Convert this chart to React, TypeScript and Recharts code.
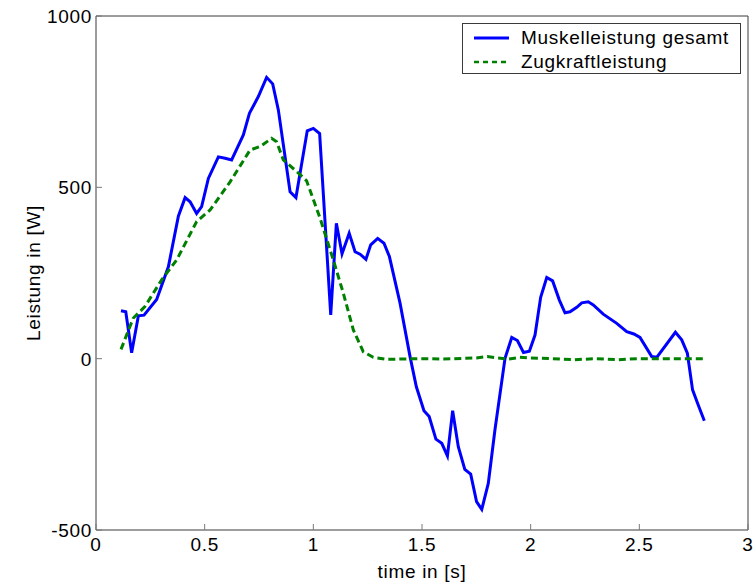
import React from 'react';
import { LineChart, Line, XAxis, YAxis, Legend, Label } from 'recharts';

// ---- data ----
const seriesNames = ['Muskelleistung gesamt', 'Zugkraftleistung'];
const xTicks = [0, 0.5, 1, 1.5, 2, 2.5, 3];
const yTicks = [-500, 0, 500, 1000];

const muscleT = [
  0.115, 0.137, 0.164, 0.195, 0.221, 0.279, 0.333, 0.379, 0.41, 0.433, 0.463, 0.486,
  0.517, 0.563, 0.594, 0.624, 0.678, 0.706, 0.747, 0.785, 0.813, 0.839, 0.893, 0.92,
  0.972, 1.0, 1.029, 1.08, 1.106, 1.132, 1.165, 1.192, 1.215, 1.242, 1.264, 1.296,
  1.325, 1.35, 1.399, 1.445, 1.474, 1.509, 1.533, 1.564, 1.591, 1.617, 1.641, 1.667,
  1.697, 1.724, 1.751, 1.775, 1.805, 1.836, 1.882, 1.913, 1.939, 1.967, 1.994, 2.02,
  2.046, 2.074, 2.101, 2.132, 2.158, 2.181, 2.212, 2.235, 2.265, 2.288, 2.334, 2.396,
  2.442, 2.475, 2.503, 2.557, 2.58, 2.666, 2.695, 2.721, 2.745, 2.771, 2.799,
];
const muscleW = [
  140, 137, 17, 125, 127, 173, 268, 416, 470, 458, 424, 444,
  526, 589, 585, 580, 653, 716, 765, 821, 802, 726, 487, 470,
  665, 672, 657, 128, 395, 306, 366, 312, 305, 290, 332, 351,
  337, 298, 162, 6, -82, -152, -169, -235, -247, -284, -152, -257,
  -323, -337, -417, -440, -364, -206, 1, 62, 53, 18, 22, 69,
  179, 237, 227, 171, 134, 137, 150, 163, 166, 157, 130, 103,
  79, 72, 62, 6, 4, 77, 55, 16, -91, -135, -181,
];

const tractionT = [
  0.115, 0.171, 0.225, 0.302, 0.371, 0.463, 0.525, 0.617, 0.709, 0.755, 0.808, 0.831,
  0.862, 0.938, 0.969, 1.031, 1.092, 1.138, 1.184, 1.23, 1.276, 1.337, 1.4, 1.5,
  1.6, 1.7, 1.75, 1.8, 1.85, 1.9, 1.95, 2.0, 2.1, 2.2, 2.3, 2.4, 2.5, 2.6, 2.7, 2.8,
];
const tractionW = [
  27, 118, 152, 230, 288, 400, 434, 516, 609, 619, 643, 633,
  580, 538, 519, 410, 288, 191, 84, 20, 4, -2, -1, 0,
  -1, 1, 2, 6, 2, -1, 4, 2, 0, -3, 0, -3, 0, 0, 0, 0,
];

const muscleData = muscleT.map((t, i) => ({ t, w: muscleW[i] }));
const tractionData = tractionT.map((t, i) => ({ t, w: tractionW[i] }));

// ---- styles ----
const FONT = '"Liberation Sans", Arial, sans-serif';
const FS = 19;
const LS = 0.7;
const FRAME = '#3a3a3a';
const TICK = '#7a7a7a';
const BLUE = '#0000ff';
const GREEN = '#008000';

const BottomTick = (p: any) => (
  <g>
    <line x1={p.x} y1={p.y} x2={p.x} y2={p.y - 6} stroke={TICK} strokeWidth={1} />
    <text x={p.x} y={p.y + 21} textAnchor="middle" fontFamily={FONT} fontSize={FS} letterSpacing={LS} fill="#000">
      {String(p.payload.value)}
    </text>
  </g>
);
const TopTick = (p: any) => (
  <line x1={p.x} y1={p.y} x2={p.x} y2={p.y + 6} stroke={TICK} strokeWidth={1} />
);
const LeftTick = (p: any) => (
  <g>
    <line x1={p.x} y1={p.y} x2={p.x + 6} y2={p.y} stroke={TICK} strokeWidth={1} />
    <text x={p.x - 4} y={p.y} dy="0.36em" textAnchor="end" fontFamily={FONT} fontSize={FS} letterSpacing={LS} fill="#000">
      {String(p.payload.value)}
    </text>
  </g>
);
const RightTick = (p: any) => (
  <line x1={p.x} y1={p.y} x2={p.x - 6} y2={p.y} stroke={TICK} strokeWidth={1} />
);

const LegendBox = () => (
  <div
    style={{
      width: 279,
      height: 51,
      boxSizing: 'border-box',
      border: `1px solid ${FRAME}`,
      background: '#fff',
      fontFamily: FONT,
      fontSize: FS,
      letterSpacing: LS,
      position: 'relative',
    }}
  >
    {seriesNames.map((name, i) => (
      <div key={name} style={{ position: 'absolute', left: 10, top: 2 + i * 24, height: 24, display: 'flex', alignItems: 'center' }}>
        <svg width={40} height={10} style={{ display: 'block' }}>
          <line
            x1={1}
            y1={5}
            x2={36}
            y2={5}
            stroke={i === 0 ? BLUE : GREEN}
            strokeWidth={i === 0 ? 3 : 2.5}
            strokeDasharray={i === 0 ? undefined : '5 4'}
          />
        </svg>
        <span style={{ marginLeft: 8, color: '#000', whiteSpace: 'nowrap' }}>{name}</span>
      </div>
    ))}
  </div>
);

export default function App() {
  return (
    <div style={{ width: 756, height: 584, background: '#fff' }}>
      <style>{'html,body{margin:0;padding:0;background:#fff;}'}</style>
      <LineChart width={756} height={584} margin={{ top: 15, right: 7, bottom: 0, left: 0 }}>
        <XAxis
          dataKey="t"
          type="number"
          domain={[0, 3]}
          ticks={xTicks}
          height={54}
          tickSize={0}
          tickMargin={0}
          tickLine={false}
          tick={BottomTick}
          axisLine={{ stroke: FRAME }}
        >
          <Label
            value="time in [s]"
            position="insideBottom"
            offset={6}
            style={{ fontFamily: FONT, fontSize: FS, letterSpacing: LS, fill: '#000' }}
          />
        </XAxis>
        <XAxis
          xAxisId="top"
          orientation="top"
          type="number"
          domain={[0, 3]}
          ticks={xTicks}
          height={1}
          tickSize={0}
          tickMargin={0}
          tickLine={false}
          tick={TopTick}
          axisLine={{ stroke: FRAME }}
        />
        <YAxis
          type="number"
          domain={[-500, 1000]}
          ticks={yTicks}
          width={96}
          tickSize={0}
          tickMargin={0}
          tickLine={false}
          tick={LeftTick}
          axisLine={{ stroke: FRAME }}
        >
          <Label
            content={(props: any) => {
              const vb = props.viewBox || { x: 0, y: 16, width: 96, height: 514 };
              const cx = vb.x + 33;
              const cy = vb.y + vb.height / 2;
              return (
                <text
                  x={cx}
                  y={cy}
                  transform={`rotate(-90, ${cx}, ${cy})`}
                  textAnchor="middle"
                  dominantBaseline="central"
                  fontFamily={FONT}
                  fontSize={FS}
                  letterSpacing={LS}
                  fill="#000"
                >
                  Leistung in [W]
                </text>
              );
            }}
          />
        </YAxis>
        <YAxis
          yAxisId="right"
          orientation="right"
          type="number"
          domain={[-500, 1000]}
          ticks={yTicks}
          width={1}
          tickSize={0}
          tickMargin={0}
          tickLine={false}
          tick={RightTick}
          axisLine={{ stroke: FRAME }}
        />
        <Line
          data={muscleData}
          dataKey="w"
          name={seriesNames[0]}
          type="linear"
          stroke={BLUE}
          strokeWidth={3}
          dot={false}
          activeDot={false}
          isAnimationActive={false}
        />
        <Line
          data={tractionData}
          dataKey="w"
          name={seriesNames[1]}
          type="linear"
          stroke={GREEN}
          strokeWidth={3}
          strokeDasharray="7 4"
          dot={false}
          activeDot={false}
          isAnimationActive={false}
        />
        <Legend
          layout="vertical"
          align="center"
          verticalAlign="middle"
          content={() => <LegendBox />}
          wrapperStyle={{ position: 'absolute', left: 462, top: 23, width: 279, height: 51, bottom: 'auto', right: 'auto' }}
        />
      </LineChart>
    </div>
  );
}
